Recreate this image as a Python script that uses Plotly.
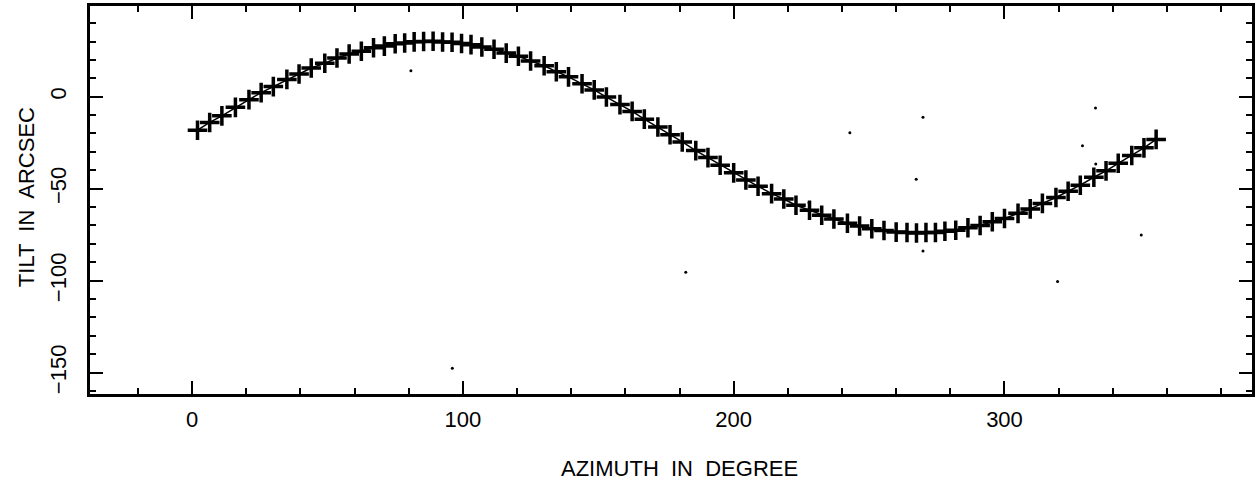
import plotly.graph_objects as go

# Azimuth (degrees) and tilt (arcsec)
azimuth = [2, 6.5, 11, 16, 21, 25.5, 30, 35, 39.5, 44, 49, 53.5, 58, 62.5, 67, 71, 75,
           78.5, 82, 85.5, 89, 92.5, 96, 99.5, 103, 107, 111.5, 116, 120.5, 125, 130,
           134.5, 139, 144, 148.5, 153, 158, 162.5, 167, 172, 176.5, 181, 186, 190.5,
           195, 200, 204.5, 209, 214, 218.5, 223, 228, 232.5, 237, 242, 246.5, 251,
           255.5, 260, 264, 267.5, 271, 274.5, 278, 282, 286.5, 291, 295.5, 300, 305,
           309.5, 314, 319, 323.5, 328, 333, 337.5, 342, 347, 351.5, 356]
tilt = [-18.2, -14.0, -10.4, -5.8, -1.6, 2.2, 5.5, 9.4, 12.3, 15.6, 18.2, 21.0, 23.2,
        24.7, 26.6, 27.5, 28.8, 29.2, 29.8, 30.0, 30.1, 29.7, 29.6, 28.9, 28.3, 27.0,
        25.8, 23.7, 22.0, 19.4, 16.8, 13.6, 10.8, 7.0, 3.7, -0.2, -4.3, -8.0, -12.2,
        -16.5, -20.7, -24.6, -29.3, -33.1, -37.3, -41.4, -45.3, -48.7, -52.7, -55.6,
        -59.0, -61.7, -64.4, -66.5, -68.8, -70.3, -71.8, -72.7, -73.6, -73.8, -74.1,
        -73.8, -73.8, -73.1, -72.6, -71.2, -70.0, -68.0, -66.2, -63.4, -61.0, -58.0,
        -54.8, -51.4, -48.1, -43.8, -40.3, -36.2, -32.0, -27.8, -23.2]

# Small isolated specks visible inside the frame
speck_x = [269.9, 242.9, 267.4, 269.9, 182.3, 227.8, 319.6, 350.5, 333.7, 333.6, 328.8, 80.8, 96.1]
speck_y = [-11.2, -19.6, -44.9, -83.9, -95.4, -57.6, -100.5, -75.2, -36.6, -6.1, -26.6, 14.1, -147.6]

x_ticks = [0, 100, 200, 300]
y_ticks = [-150, -100, -50, 0]
y_ticklabels = ["\u2212150", "\u2212100", "\u221250", "0"]

FONT = "Liberation Sans"

fig = go.Figure()
fig.add_trace(go.Scatter(
    x=azimuth, y=tilt, mode="lines+markers",
    line=dict(color="black", width=1.5),
    marker=dict(symbol="cross-thin", size=14, line=dict(color="black", width=3.5)),
    showlegend=False, hoverinfo="skip"))
fig.add_trace(go.Scatter(
    x=speck_x, y=speck_y, mode="markers",
    marker=dict(symbol="circle", size=3, color="black"),
    showlegend=False, hoverinfo="skip"))

axis_common = dict(
    showline=True, linecolor="black", linewidth=2.5, mirror="allticks",
    ticks="inside", tickcolor="black", tickwidth=2, ticklen=13,
    showgrid=False, zeroline=False,
    tickfont=dict(family=FONT, size=22, color="black"),
)

fig.update_xaxes(
    range=[-37.7, 391.4], tickmode="array", tickvals=x_ticks,
    ticktext=[str(v) for v in x_ticks],
    minor=dict(dtick=20, tick0=0, ticks="inside", ticklen=6, tickwidth=2,
               tickcolor="black", showgrid=False),
    ticklabelstandoff=4,
    **axis_common)
fig.update_yaxes(
    range=[-161.6, 49.3], tickmode="array", tickvals=y_ticks, ticktext=y_ticklabels,
    tickangle=-90,
    minor=dict(dtick=10, tick0=0, ticks="inside", ticklen=6, tickwidth=2,
               tickcolor="black", showgrid=False),
    ticklabelstandoff=12,
    **axis_common)

fig.update_layout(
    width=1257, height=488,
    margin=dict(l=90, r=2, t=6, b=94),
    paper_bgcolor="white", plot_bgcolor="white",
    font=dict(family=FONT, size=22, color="black"),
    annotations=[
        dict(text="AZIMUTH  IN  DEGREE", xref="paper", yref="paper",
             x=0.507, y=-0.191, xanchor="center", yanchor="middle",
             showarrow=False, font=dict(family=FONT, size=22, color="black")),
        dict(text="TILT  IN  ARCSEC", xref="paper", yref="paper",
             x=-0.054, y=0.508, xanchor="center", yanchor="middle", textangle=-90,
             showarrow=False, font=dict(family=FONT, size=22, color="black")),
    ],
)

fig.write_html("out.html")
